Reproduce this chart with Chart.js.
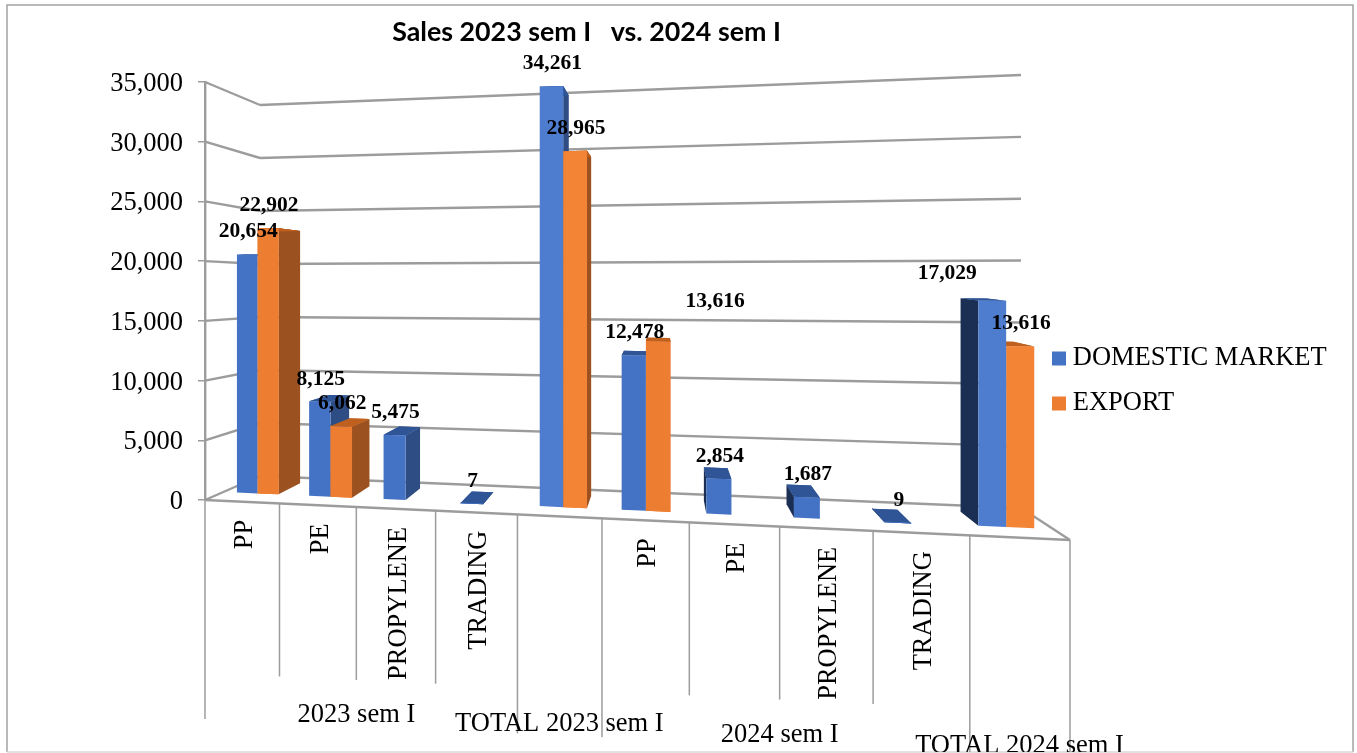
<!DOCTYPE html>
<html>
<head>
<meta charset="utf-8">
<title>Sales 2023 sem I vs. 2024 sem I</title>
<script src="https://cdn.jsdelivr.net/npm/chart.js@4/dist/chart.umd.js"></script>
<style>
    html, body { margin: 0; padding: 0; background: #fff; overflow: hidden; }
    canvas { display: block; }
</style>
</head>
<body>
<canvas id="myChart" width="1357" height="753"></canvas>
<script>
//chart values
const categories = ['PP', 'PE', 'PROPYLENE', 'TRADING', '', 'PP', 'PE', 'PROPYLENE', 'TRADING', ''];
const domestic = [20654, 8125, 5475, 7, 34261, 12478, 2854, 1687, 9, 17029];
const exportSales = [22902, 6062, null, null, 28965, 13616, null, null, null, 13616];
const groupNames = ['2023 sem I', 'TOTAL 2023 sem I', '2024 sem I', 'TOTAL 2024 sem I'];
const groupFirst = [0, 4, 5, 9];
const groupLast = [3, 4, 8, 9];
const yTicks = [0, 5000, 10000, 15000, 20000, 25000, 30000, 35000];

const SERIF = "'Liberation Serif', 'Times New Roman', serif";
const GRID = '#9c9c9c';
const BLUE = '#4472c4';
const BLUE_TOTAL = '#4e7dd0';
const ORANGE = '#ed7d31';
const ORANGE_TOTAL = '#f48435';

//top, right side and left side colour of a bar by its front colour
const blueShade = { top: '#2f5597', right: '#2f4d85', left: '#1b2f55' };
const orangeShade = { top: '#c0601f', right: '#9c5220', left: '#9c5220' };
const shades = {
    [BLUE]: blueShade,
    [BLUE_TOTAL]: blueShade,
    [ORANGE]: orangeShade,
    [ORANGE_TOTAL]: orangeShade
};

//front and back planes of the 3d box, at the left and right ends of the category axis
const box = {
    front: { x0: 205, x1: 1070, base0: 500, base1: 540, h0: 418, h1: 488 },
    back: { x0: 260, x1: 1021, base0: 476, base1: 508, h0: 371, h1: 433 }
};
const FORESHORTEN = 1.179;
const BAR_FRONT = 0.31;
const BAR_BACK = 0.76;

//the bar elements paint through this one, set before the datasets are drawn
let activeChart = null;

//scale pixels (px, py) plus a depth 0..1 into the drawn perspective position
function project(chart, px, py, depth) {
    const area = chart.chartArea;
    const u = (px - area.left) / (area.right - area.left);
    const v = (area.bottom - py) / (area.bottom - area.top);
    const t = u / (u + (1 - u) * FORESHORTEN);
    const onPlane = (p) => ({
        x: p.x0 + (p.x1 - p.x0) * t,
        y: p.base0 + (p.base1 - p.base0) * t - v * (p.h0 + (p.h1 - p.h0) * t)
    });
    const f = onPlane(box.front);
    const b = onPlane(box.back);
    return { x: f.x + (b.x - f.x) * depth, y: f.y + (b.y - f.y) * depth };
}

function polygon(ctx, pts, color) {
    ctx.beginPath();
    pts.forEach((p, i) => i ? ctx.lineTo(p.x, p.y) : ctx.moveTo(p.x, p.y));
    ctx.closePath();
    ctx.fillStyle = color;
    ctx.fill();
}

function line(ctx, a, b) {
    ctx.beginPath();
    ctx.moveTo(a.x, a.y);
    ctx.lineTo(b.x, b.y);
    ctx.stroke();
}

//depth face between two points of the front of a bar
function depthFace(chart, x0, y0, x1, y1) {
    return [
        project(chart, x0, y0, BAR_FRONT),
        project(chart, x1, y1, BAR_FRONT),
        project(chart, x1, y1, BAR_BACK),
        project(chart, x0, y0, BAR_BACK)
    ];
}

function drawTopAndFront(ctx, chart, el) {
    const left = el.x - el.width / 2;
    const right = el.x + el.width / 2;
    polygon(ctx, depthFace(chart, left, el.y, right, el.y), shades[el.options.backgroundColor].top);
    polygon(ctx, [
        project(chart, left, el.y, BAR_FRONT),
        project(chart, right, el.y, BAR_FRONT),
        project(chart, right, el.base, BAR_FRONT),
        project(chart, left, el.base, BAR_FRONT)
    ], el.options.backgroundColor);
}

//bars keep their position from the scales, only the painting is done in 3d
Chart.BarElement.prototype.draw = function (ctx) {
    const chart = activeChart;
    const shade = shades[this.options.backgroundColor];
    const left = this.x - this.width / 2;
    const right = this.x + this.width / 2;
    const rightDepth = project(chart, right, this.y, BAR_BACK).x - project(chart, right, this.y, BAR_FRONT).x;
    const leftDepth = project(chart, left, this.y, BAR_BACK).x - project(chart, left, this.y, BAR_FRONT).x;
    const index = chart.getDatasetMeta(0).data.indexOf(this);
    const hiddenSide = index >= 0 && exportSales[index] >= domestic[index];

    ctx.save();
    polygon(ctx, depthFace(chart, left, this.y, right, this.y), shade.top);
    if (rightDepth > 0 && !hiddenSide) polygon(ctx, depthFace(chart, right, this.y, right, this.base), shade.right);
    if (leftDepth < 0) polygon(ctx, depthFace(chart, left, this.y, left, this.base), shade.left);
    drawTopAndFront(ctx, chart, this);

    //export is painted first, before the vanishing point it still has to end up in front
    if (rightDepth > 0 && index >= 0 && exportSales[index] !== null) {
        drawTopAndFront(ctx, chart, chart.getDatasetMeta(1).data[index]);
    }
    ctx.restore();
};

//frame, walls and floor behind the bars
const wallsPlugin = {
    id: 'walls',
    afterLayout(chart) {
        //legend and title do not sit where the layout puts them
        chart.legend.top += 123;
        chart.legend.bottom += 123;
        chart.legend.left = 1058.5 - chart.options.plugins.legend.labels.padding;
        chart.titleBlock.right -= 184;
    },
    beforeDraw(chart) {
        const ctx = chart.ctx;
        ctx.save();
        ctx.fillStyle = '#fff';
        ctx.fillRect(0, 0, chart.width, chart.height);
        ctx.strokeStyle = '#a3a3a3';
        ctx.lineWidth = 1.5;
        ctx.beginPath();
        ctx.moveTo(7, 752);
        ctx.lineTo(7, 5);
        ctx.lineTo(1353, 5);
        ctx.lineTo(1353, 752);
        ctx.stroke();
        ctx.strokeStyle = '#d9d9d9';
        ctx.beginPath();
        ctx.moveTo(7, 752);
        ctx.lineTo(1353, 752);
        ctx.stroke();
        ctx.restore();
    },
    beforeDatasetsDraw(chart) {
        activeChart = chart;
        const ctx = chart.ctx;
        const area = chart.chartArea;
        const y = chart.scales.y;
        ctx.save();
        ctx.strokeStyle = GRID;
        ctx.lineWidth = 2.4;
        yTicks.forEach((value) => {
            const py = y.getPixelForValue(value);
            const corner = project(chart, area.left, py, 1);
            line(ctx, project(chart, area.left, py, 0), corner);
            line(ctx, corner, project(chart, area.right, py, 1));
        });
        const floorRight = project(chart, area.right, area.bottom, 0);
        line(ctx, project(chart, area.left, area.bottom, 0), floorRight);
        line(ctx, floorRight, project(chart, area.right, area.bottom, 1));
        ctx.restore();
    },
    afterDatasetsDraw(chart) {
        drawAxisLabels(chart);
        drawValueLabels(chart);
    }
};

//the two level category axis under the floor
function drawAxisLabels(chart) {
    const ctx = chart.ctx;
    const area = chart.chartArea;
    const x = chart.scales.x;
    const step = (area.right - area.left) / categories.length;
    ctx.save();
    ctx.beginPath();
    ctx.rect(0, 0, chart.width, 752);
    ctx.clip();

    ctx.strokeStyle = GRID;
    ctx.lineWidth = 1.5;
    for (let i = 0; i <= categories.length; i++) {
        const floor = project(chart, area.left + step * i, area.bottom, 0);
        const long = groupFirst.includes(i) || i === categories.length;
        line(ctx, floor, { x: floor.x, y: floor.y + (long ? 219 : 173) });
    }

    ctx.fillStyle = '#000';
    ctx.font = '26.5px ' + SERIF;
    categories.forEach((name, i) => {
        if (!name) return;
        const floor = project(chart, x.getPixelForValue(i), area.bottom, 0);
        ctx.save();
        ctx.translate(floor.x + 3, floor.y + 18);
        ctx.rotate(-Math.PI / 2);
        ctx.textAlign = 'right';
        ctx.textBaseline = 'middle';
        ctx.fillText(name, 0, 0);
        ctx.restore();
    });

    ctx.textAlign = 'center';
    ctx.textBaseline = 'middle';
    groupNames.forEach((name, i) => {
        const mid = (x.getPixelForValue(groupFirst[i]) + x.getPixelForValue(groupLast[i])) / 2;
        const floor = project(chart, mid, area.bottom, 0);
        ctx.fillText(name, floor.x, floor.y + 208);
    });
    ctx.restore();
}

//value labels above the bars, two of them were moved away from their bar
function drawValueLabels(chart) {
    const ctx = chart.ctx;
    const moved = { '1-5': [57, -40], '0-9': [-45, -27] };
    ctx.save();
    ctx.fillStyle = '#000';
    ctx.font = 'bold 21.5px ' + SERIF;
    ctx.textAlign = 'center';
    ctx.textBaseline = 'middle';
    chart.data.datasets.forEach((dataset, d) => {
        chart.getDatasetMeta(d).data.forEach((el, i) => {
            if (dataset.data[i] === null) return;
            const top = project(chart, el.x, el.y, BAR_FRONT);
            const shift = moved[d + '-' + i] || [1, -22.5];
            ctx.fillText(dataset.data[i].toLocaleString('en-US'), top.x + shift[0], top.y + shift[1]);
        });
    });
    ctx.restore();
}

const ctx = document.getElementById('myChart').getContext('2d');
const myChart = new Chart(ctx, {
    type: 'bar',
    plugins: [wallsPlugin],
    data: {
        labels: categories,
        datasets: [
            {
                label: 'DOMESTIC MARKET',
                data: domestic,
                backgroundColor: categories.map((name) => name ? BLUE : BLUE_TOTAL),
                clip: false,
                borderWidth: 0
            },
            {
                label: 'EXPORT',
                data: exportSales,
                backgroundColor: categories.map((name) => name ? ORANGE : ORANGE_TOTAL),
                clip: false,
                borderWidth: 0
            }
        ]
    },
    options: {
        responsive: false,
        animation: false,
        layout: { padding: { top: 16, bottom: 253, left: 0, right: 0 } },
        datasets: { bar: { categoryPercentage: 0.58, barPercentage: 1 } },
        plugins: {
            tooltip: { enabled: false },
            title: {
                display: true,
                text: 'Sales 2023 sem I   vs. 2024 sem I',
                color: '#000',
                font: { family: 'Lato', size: 26.8, weight: 'bold', lineHeight: 1.2 },
                padding: { top: 0, bottom: 34 }
            },
            legend: {
                position: 'right',
                labels: {
                    color: '#000',
                    font: { family: SERIF, size: 26.5 },
                    usePointStyle: true,
                    pointStyle: 'rect',
                    boxWidth: 1,
                    boxHeight: 14,
                    padding: 18.5
                }
            }
        },
        scales: {
            x: { display: false },
            y: {
                min: 0,
                max: 35000,
                afterFit(scale) { scale.width = 205; },
                afterBuildTicks(scale) { scale.ticks = yTicks.map((value) => ({ value })); },
                border: { display: true, color: GRID, width: 2.4 },
                grid: { drawOnChartArea: false, color: GRID, lineWidth: 1.5, tickLength: 7 },
                ticks: {
                    color: '#000',
                    padding: 15,
                    //the empty first line pushes the number down onto its tick
                    font: { family: SERIF, size: 26.5, lineHeight: 0.15 },
                    callback: (value) => ['', value.toLocaleString('en-US')]
                }
            }
        }
    }
});
</script>
</body>
</html>
